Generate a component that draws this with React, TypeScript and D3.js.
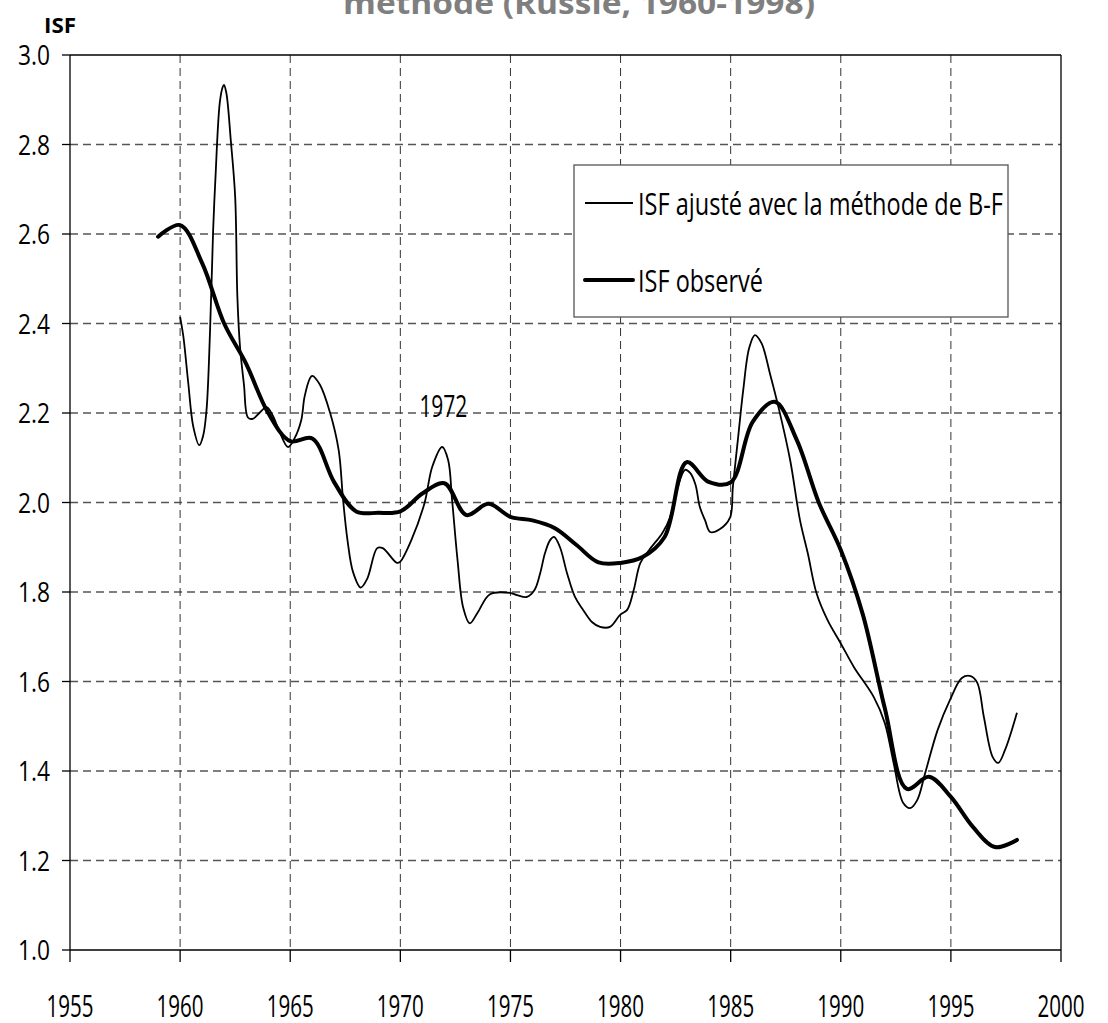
import React from "react";
import * as d3 from "d3";

// Observed total fertility rate (annual)
const observedYears = [
  1959, 1960, 1961, 1962, 1963, 1964, 1965, 1966, 1967, 1968, 1969, 1970,
  1971, 1972, 1973, 1974, 1975, 1976, 1977, 1978, 1979, 1980, 1981, 1982,
  1983, 1984, 1985, 1986, 1987, 1988, 1989, 1990, 1991, 1992, 1993, 1994,
  1995, 1996, 1997, 1998,
];
const observedValues = [
  2.594, 2.62, 2.535, 2.4, 2.31, 2.2, 2.137, 2.143, 2.045, 1.98, 1.977, 1.98,
  2.02, 2.043, 1.972, 1.997, 1.968, 1.96, 1.943, 1.905, 1.866, 1.865, 1.878, 1.923,
  2.09, 2.046, 2.045, 2.18, 2.225, 2.14, 2.0, 1.894, 1.75, 1.54, 1.36, 1.387,
  1.342, 1.275, 1.23, 1.246,
];

// TFR adjusted with the Bongaarts-Feeney method
const fittedYears = [
  1960.0, 1960.15, 1960.37, 1960.6, 1960.87, 1961.05, 1961.2, 1961.36, 1961.5, 1961.6,
  1961.8, 1961.93, 1961.99, 1962.1, 1962.3, 1962.5, 1962.6, 1962.72, 1962.9, 1963.08,
  1963.3, 1963.6, 1963.93, 1964.2, 1964.5, 1964.9, 1965.2, 1965.5, 1965.65, 1965.9,
  1966.0, 1966.35, 1966.8, 1967.2, 1967.4, 1967.6, 1967.85, 1968.2, 1968.5, 1968.95,
  1969.2, 1969.85, 1970.0, 1970.5, 1971.1, 1971.45, 1971.9, 1972.17, 1972.35, 1972.6,
  1972.85, 1973.15, 1973.5, 1974.07, 1974.98, 1975.3, 1975.75, 1976.1, 1976.35, 1976.57,
  1976.8, 1976.98, 1977.25, 1977.57, 1977.93, 1978.3, 1978.7, 1979.07, 1979.52, 1979.98,
  1980.3, 1980.6, 1980.9, 1981.3, 1981.9, 1982.25, 1982.6, 1982.93, 1983.16, 1983.4,
  1983.6, 1983.84, 1984.07, 1984.5, 1984.97, 1985.1, 1985.34, 1985.57, 1985.84, 1986.1,
  1986.4, 1986.8, 1987.2, 1987.7, 1988.15, 1988.5, 1988.9, 1989.4, 1990.0, 1990.6,
  1991.5, 1992.0, 1992.4, 1992.83, 1993.15, 1993.47, 1993.83, 1994.4, 1994.96, 1995.5,
  1995.9, 1996.2, 1996.5, 1996.9, 1997.15, 1997.46, 1998.0,
];
const fittedValues = [
  2.415, 2.37, 2.267, 2.169, 2.128, 2.15, 2.207, 2.385, 2.609, 2.72,
  2.893, 2.928, 2.933, 2.915, 2.81, 2.683, 2.46, 2.348, 2.263, 2.19,
  2.187, 2.2, 2.213, 2.195, 2.16, 2.124, 2.144, 2.184, 2.236, 2.278,
  2.283, 2.263, 2.202, 2.117, 2.006, 1.916, 1.845, 1.81, 1.83, 1.898,
  1.898, 1.865, 1.868, 1.916, 1.999, 2.08, 2.124, 2.095, 2.006, 1.87,
  1.766, 1.73, 1.753, 1.795, 1.798, 1.793, 1.789, 1.805, 1.842, 1.887,
  1.916, 1.923, 1.9, 1.842, 1.789, 1.76, 1.733, 1.722, 1.722, 1.749,
  1.76, 1.805, 1.865, 1.894, 1.932, 1.967, 2.035, 2.073, 2.066, 2.04,
  1.99, 1.96, 1.934, 1.94, 1.966, 2.035, 2.146, 2.251, 2.345, 2.374,
  2.356, 2.285, 2.207, 2.095, 1.96, 1.887, 1.797, 1.737, 1.685, 1.632,
  1.565, 1.507, 1.418, 1.329, 1.317, 1.335, 1.395, 1.492, 1.559, 1.608,
  1.612, 1.597, 1.52, 1.431, 1.418, 1.447, 1.53,
];

const xTicks = [1955, 1960, 1965, 1970, 1975, 1980, 1985, 1990, 1995, 2000];
const yTicks = [1.0, 1.2, 1.4, 1.6, 1.8, 2.0, 2.2, 2.4, 2.6, 2.8, 3.0];

const titleText = "méthode (Russie, 1960-1998)";
const yAxisTitle = "ISF";
const legendLabels = ["ISF ajusté avec la méthode de B-F", "ISF observé"];
const annotation = { year: 1972, text: "1972" };

const FONT = "'Open Sans', 'DejaVu Sans', sans-serif";

export default function App() {
  const W = 1108;
  const H = 1023;
  const left = 70;
  const right = 1061;
  const top = 55;
  const bottom = 950;

  const x = d3.scaleLinear().domain([1955, 2000]).range([left, right]);
  const y = d3.scaleLinear().domain([1.0, 3.0]).range([bottom, top]);

  const line = d3
    .line<[number, number]>()
    .x((d) => x(d[0]))
    .y((d) => y(d[1]))
    .curve(d3.curveCatmullRom.alpha(0.5));

  const observed = observedYears.map((yr, i) => [yr, observedValues[i]] as [number, number]);
  const fitted = fittedYears.map((yr, i) => [yr, fittedValues[i]] as [number, number]);

  return (
    <svg
      width={W}
      height={H}
      style={{ position: "absolute", left: 0, top: 0, background: "#fff" }}
    >
      {/* title (second line, partly above the top edge) */}
      <text
        x={343}
        y={14}
        fontFamily={FONT}
        fontWeight="bold"
        fontSize={30}
        fill="#7f7f7f"
        textLength={472}
        lengthAdjust="spacingAndGlyphs"
      >
        {titleText}
      </text>

      {/* y axis title */}
      <text
        x={44}
        y={33}
        fontFamily={FONT}
        fontWeight="bold"
        fontSize={21}
        fill="#000"
        textLength={32}
        lengthAdjust="spacingAndGlyphs"
      >
        {yAxisTitle}
      </text>

      {/* horizontal grid */}
      {yTicks
        .filter((t) => t > 1.0 && t < 3.0)
        .map((t) => (
          <line
            key={"hg" + t}
            x1={left}
            x2={right}
            y1={y(t)}
            y2={y(t)}
            stroke="#555"
            strokeWidth={1.3}
            strokeDasharray="8,5"
          />
        ))}
      {/* vertical grid */}
      {xTicks
        .filter((t) => t > 1955 && t < 2000)
        .map((t) => (
          <line
            key={"vg" + t}
            x1={x(t)}
            x2={x(t)}
            y1={top}
            y2={bottom}
            stroke="#333"
            strokeWidth={1}
            strokeDasharray="8,5"
          />
        ))}

      {/* plot frame */}
      <line x1={left} x2={right} y1={top} y2={top} stroke="#000" strokeWidth={1.3} />
      <line x1={right} x2={right} y1={top} y2={bottom} stroke="#000" strokeWidth={1.3} />
      <line x1={left} x2={left} y1={top} y2={bottom} stroke="#000" strokeWidth={1.3} />
      <line x1={left} x2={right} y1={bottom} y2={bottom} stroke="#000" strokeWidth={1.3} />

      {/* y ticks and labels */}
      {yTicks.map((t) => (
        <g key={"yt" + t}>
          <line x1={left - 8} x2={left} y1={y(t)} y2={y(t)} stroke="#000" strokeWidth={1.3} />
          <text
            x={50}
            y={y(t) + 10}
            textAnchor="end"
            fontFamily={FONT}
            fontSize={28}
            fill="#000"
            textLength={32}
            lengthAdjust="spacingAndGlyphs"
          >
            {t.toFixed(1)}
          </text>
        </g>
      ))}

      {/* x ticks and labels */}
      {xTicks.map((t) => (
        <g key={"xt" + t}>
          <line x1={x(t)} x2={x(t)} y1={bottom} y2={bottom + 12} stroke="#000" strokeWidth={1.3} />
          <text
            x={x(t)}
            y={1017}
            textAnchor="middle"
            fontFamily={FONT}
            fontSize={31}
            fill="#000"
            textLength={47}
            lengthAdjust="spacingAndGlyphs"
          >
            {t}
          </text>
        </g>
      ))}

      {/* series */}
      <path d={line(fitted) ?? ""} fill="none" stroke="#000" strokeWidth={1.8} strokeLinejoin="round" />
      <path d={line(observed) ?? ""} fill="none" stroke="#000" strokeWidth={4} strokeLinejoin="round" strokeLinecap="round" />

      {/* annotation */}
      <text
        x={x(annotation.year) - 1}
        y={417}
        textAnchor="middle"
        fontFamily={FONT}
        fontSize={31}
        fill="#000"
        textLength={48}
        lengthAdjust="spacingAndGlyphs"
      >
        {annotation.text}
      </text>

      {/* legend */}
      <g>
        <rect x={574} y={165} width={434} height={152} fill="#fff" stroke="#555" strokeWidth={1.3} />
        <line x1={585} x2={633} y1={203} y2={203} stroke="#000" strokeWidth={1.8} />
        <text
          x={638}
          y={215}
          fontFamily={FONT}
          fontSize={31}
          fill="#000"
          textLength={365}
          lengthAdjust="spacingAndGlyphs"
        >
          {legendLabels[0]}
        </text>
        <line x1={585} x2={633} y1={280} y2={280} stroke="#000" strokeWidth={4} strokeLinecap="round" />
        <text
          x={638}
          y={292}
          fontFamily={FONT}
          fontSize={31}
          fill="#000"
          textLength={125}
          lengthAdjust="spacingAndGlyphs"
        >
          {legendLabels[1]}
        </text>
      </g>
    </svg>
  );
}
